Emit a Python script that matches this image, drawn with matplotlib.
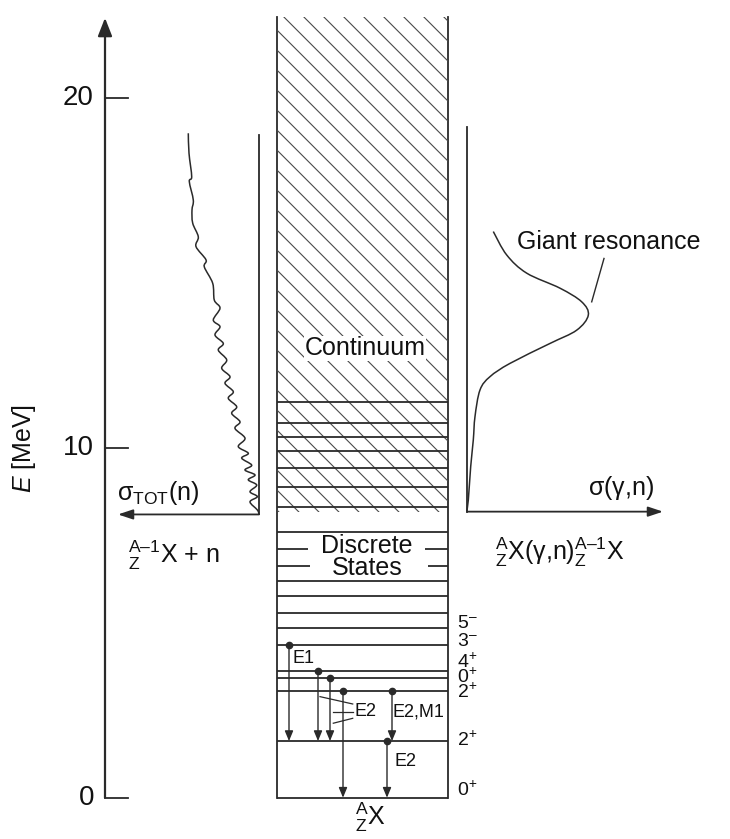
import matplotlib
matplotlib.use("Agg")
import matplotlib.pyplot as plt
import numpy as np
from matplotlib.path import Path
from matplotlib.patches import PathPatch, Rectangle
from matplotlib.collections import LineCollection

plt.rcParams['font.family'] = ['Liberation Sans', 'DejaVu Sans']
plt.rcParams['mathtext.fontset'] = 'custom'
plt.rcParams['mathtext.rm'] = 'Liberation Sans'
plt.rcParams['mathtext.it'] = 'Liberation Sans:italic'
plt.rcParams['mathtext.bf'] = 'Liberation Sans:bold'
plt.rcParams['mathtext.default'] = 'regular'

# energies in MeV
axis_ticks = [0, 10, 20]
axis_top = 22.3
continuum_top = 22.32
continuum_bottom = 8.17
continuum_lines = [11.32, 10.71, 10.31, 9.91, 9.42, 8.89, 8.30]
discrete_levels = [7.61, 6.20, 5.78, 5.27, 4.86, 4.37, 3.62, 3.41, 3.06, 1.62, 0.0]
split_levels = [7.10, 6.63]
spin_labels = ['5^{–}', '3^{–}', '4^{+}', '0^{+}', '2^{+}', '2^{+}', '0^{+}']
spin_label_e = [4.99, 4.46, 3.89, 3.46, 3.03, 1.65, 0.22]

# gamma transitions: horizontal slot, initial and final level
gamma_x = [289, 318, 330, 343, 392, 387]
gamma_from = [4.37, 3.62, 3.41, 3.06, 3.06, 1.62]
gamma_to = [1.62, 1.62, 1.62, 0.0, 1.62, 0.0]

# neutron threshold where both cross-section axes start
sep_left = 8.10
sep_right = 8.18
left_top = 18.95
right_top = 19.19

# total neutron cross section (sketch), x = horizontal position, e = energy
ntot_x = [188.3, 189.0, 191.7, 189.3, 193.3, 192.0, 192.7, 198.3, 196.0, 206.0, 204.3,
          212.7, 214.3, 220.0, 213.3, 220.0, 215.0, 223.3, 218.3, 226.7, 221.7, 230.0,
          225.0, 233.3, 228.3, 236.7, 231.7, 240.0, 235.0, 245.0, 238.3, 248.3, 241.7,
          251.7, 245.0, 255.0, 248.3, 256.7, 250.0, 257.3, 250.0, 257.3, 259.3]
ntot_e = [19.00, 18.43, 17.76, 17.62, 17.09, 16.81, 16.43, 16.04, 15.76, 15.38, 15.18,
          14.71, 14.23, 14.00, 13.66, 13.47, 13.23, 12.99, 12.80, 12.52, 12.28, 12.04,
          11.85, 11.61, 11.42, 11.18, 10.99, 10.75, 10.56, 10.28, 10.04, 9.85, 9.71,
          9.51, 9.37, 9.23, 9.09, 8.94, 8.75, 8.61, 8.46, 8.23, 8.10]

# photoneutron cross section with the giant resonance
gdr_x = [466.7, 468.3, 470.7, 473.3, 475.0, 480.0, 490.0, 510.0, 550.0, 576.7, 588.3,
         581.7, 560.0, 526.7, 506.7, 493.3]
gdr_e = [8.20, 8.51, 9.47, 10.23, 10.90, 11.66, 12.04, 12.42, 12.99, 13.37, 13.80,
         14.18, 14.57, 15.00, 15.52, 16.19]

# layout (horizontal positions)
AXIS_X = 105
TICK_LEN = 23
BOX_L, BOX_R = 277, 448
LEFT_X, LEFT_END = 259, 118
RIGHT_X, RIGHT_END = 467, 663

LINE = '#2a2a2a'
TXT = '#111111'
PX_PER_MEV = 34.97

fig = plt.figure(figsize=(7.3, 8.39), dpi=100)
ax = fig.add_axes([0, 0, 1, 1])
ax.set_xlim(0, 730)
ax.set_ylim(-1.181, 22.811)
ax.axis('off')


def smooth_path(xs, es):
    p = np.column_stack([xs, es]).astype(float)
    pad = np.vstack([p[0], p, p[-1]])
    verts = [p[0]]
    codes = [Path.MOVETO]
    for i in range(len(p) - 1):
        p0, p1, p2, p3 = pad[i], pad[i + 1], pad[i + 2], pad[i + 3]
        verts += [p1 + (p2 - p0) / 6, p2 - (p3 - p1) / 6, p2]
        codes += [Path.CURVE4] * 3
    return Path(verts, codes)


def arrow(x0, y0, x1, y1, lw, hl, hw):
    ax.annotate('', xy=(x1, y1), xytext=(x0, y0),
                arrowprops=dict(arrowstyle=f'-|>,head_length={hl},head_width={hw}',
                                mutation_scale=10, lw=lw, color=LINE, fc=LINE,
                                shrinkA=0, shrinkB=0))


# energy axis
arrow(AXIS_X, 0, AXIS_X, axis_top, 1.6, 1.1, 0.43)
for t in axis_ticks:
    ax.plot([AXIS_X, AXIS_X + TICK_LEN], [t, t], color=LINE, lw=1.3)
    ax.text(AXIS_X - 11, t, str(t), ha='right', va='center', fontsize=20, color=TXT)
ax.text(24, 10, r'$\mathit{E}$ [MeV]', rotation=90, ha='center', va='center',
        fontsize=18, color=TXT)

# level scheme box with the hatched continuum
ax.plot([BOX_L, BOX_L], [0, continuum_top], color=LINE, lw=1.3)
ax.plot([BOX_R, BOX_R], [0, continuum_top], color=LINE, lw=1.3)

step = 20 / PX_PER_MEV
width_e = (BOX_R - BOX_L) / PX_PER_MEV
starts = 21.95 + step * np.arange(-10, 30) - step * 20
segs = [[(BOX_L, e0), (BOX_R, e0 - width_e)] for e0 in starts]
hatch = ax.add_collection(LineCollection(segs, colors='#4a4a4a', linewidths=0.8))
clip = Rectangle((BOX_L, continuum_bottom), BOX_R - BOX_L, continuum_top - continuum_bottom,
                 fill=False, lw=0)
ax.add_patch(clip)
hatch.set_clip_path(clip)

ax.hlines(continuum_lines, BOX_L, BOX_R, color=LINE, lw=1.3)
ax.hlines(discrete_levels, BOX_L, BOX_R, color=LINE, lw=1.3)
ax.hlines([split_levels[0]] * 2, [BOX_L, 425], [308, BOX_R], color=LINE, lw=1.3)
ax.hlines([split_levels[1]] * 2, [BOX_L, 428], [310, BOX_R], color=LINE, lw=1.3)

ax.text(365, 12.85, 'Continuum', ha='center', va='center', fontsize=18, color=TXT,
        bbox=dict(fc='white', ec='none', pad=0.5))
ax.text(367, 7.21, 'Discrete', ha='center', va='center', fontsize=18, color=TXT)
ax.text(367, 6.56, 'States', ha='center', va='center', fontsize=18, color=TXT)

for lab, e in zip(spin_labels, spin_label_e):
    ax.text(457, e, f'${lab}$', ha='left', va='center', fontsize=14, color=TXT)

# gamma transitions
for x, e0, e1 in zip(gamma_x, gamma_from, gamma_to):
    arrow(x, e0, x, e1, 1.0, 0.6, 0.25)
    ax.plot(x, e0, 'o', ms=4.5, color=LINE)
ax.plot([320, 352.7], [2.89, 2.68], color=LINE, lw=0.9)
ax.plot([333.3, 352.7], [2.46, 2.46], color=LINE, lw=0.9)
ax.plot([333.3, 352.7], [2.13, 2.27], color=LINE, lw=0.9)
ax.text(292, 3.99, 'E1', ha='left', va='center', fontsize=13, color=TXT)
ax.text(355, 2.46, 'E2', ha='left', va='center', fontsize=13, color=TXT)
ax.text(393, 2.46, 'E2,M1', ha='left', va='center', fontsize=13, color=TXT)
ax.text(394, 1.03, 'E2', ha='left', va='center', fontsize=13, color=TXT)
ax.text(370, -0.55, r'${}^{A}_{Z}$X', ha='center', va='center', fontsize=18, color=TXT)

# neutron cross section, left
ax.plot([LEFT_X, LEFT_X], [sep_left, left_top], color=LINE, lw=1.3)
arrow(LEFT_X, sep_left, LEFT_END, sep_left, 1.3, 0.9, 0.3)
ax.add_patch(PathPatch(smooth_path(ntot_x, ntot_e), fc='none', ec=LINE, lw=1.1))
ax.text(117, 8.71, r'$\sigma_{TOT}$(n)', ha='left', va='center', fontsize=18, color=TXT)
ax.text(128, 6.94, r'${}^{A–1}_{Z}$X + n', ha='left', va='center', fontsize=18, color=TXT)

# photoneutron cross section, right
ax.plot([RIGHT_X, RIGHT_X], [sep_right, right_top], color=LINE, lw=1.3)
arrow(RIGHT_X, sep_right, RIGHT_END, sep_right, 1.3, 0.9, 0.3)
ax.add_patch(PathPatch(smooth_path(gdr_x, gdr_e), fc='none', ec=LINE, lw=1.1))
ax.plot([591.7, 604], [14.18, 15.42], color=LINE, lw=1.0)
ax.text(517, 15.89, 'Giant resonance', ha='left', va='center', fontsize=18, color=TXT)
ax.text(588, 8.86, r'$\sigma(\gamma$,n)', ha='left', va='center', fontsize=18, color=TXT)
ax.text(495, 7.03, r'${}^{A}_{Z}$X($\gamma$,n)${}^{A–1}_{Z}$X', ha='left', va='center',
        fontsize=18, color=TXT)

fig.savefig('out.png', dpi=100, facecolor='white')
